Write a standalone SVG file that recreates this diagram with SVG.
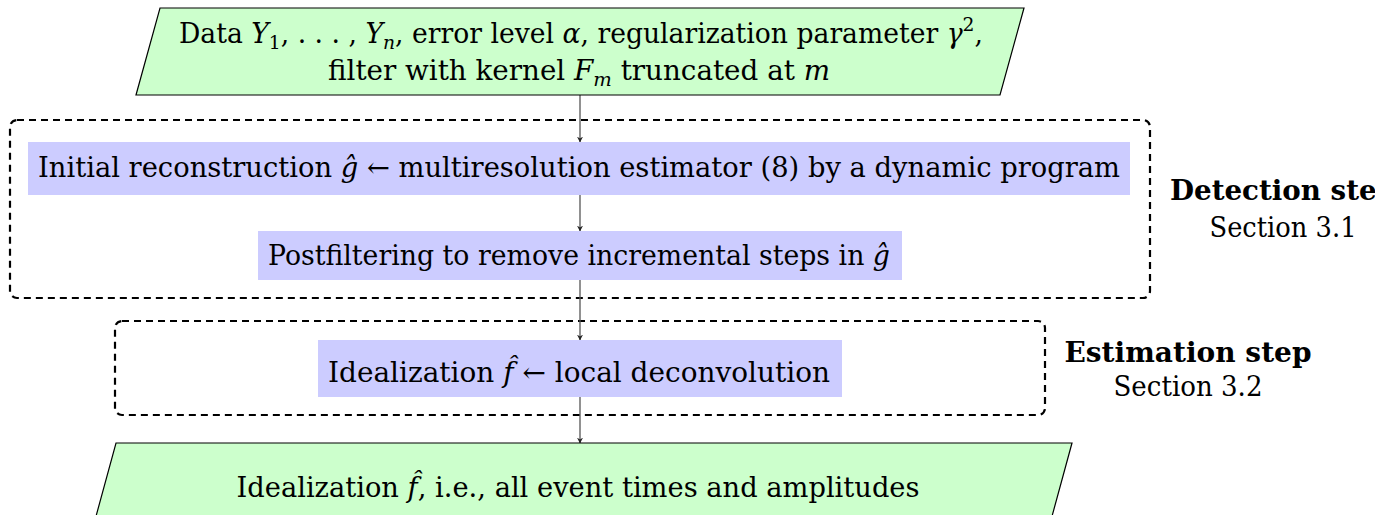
<svg xmlns="http://www.w3.org/2000/svg" width="1375" height="515" viewBox="0 0 1375 515">
<defs>
<style>
text{font-family:"DejaVu Serif",serif;font-size:27px;fill:#000}
.m{font-style:italic}
.s{font-size:19px}
.b{font-weight:bold}
.io{fill:#ccffcc;stroke:#000;stroke-width:1.2}
.proc{fill:#ccccff}
.grp{fill:none;stroke:#000;stroke-width:2.2;stroke-dasharray:7 5}
.conn{stroke:#555;stroke-width:1.3;fill:none;marker-end:url(#ah)}
</style>
<marker id="ah" viewBox="0 0 10 10" refX="9" refY="5" markerWidth="6" markerHeight="7" markerUnits="userSpaceOnUse" orient="auto">
<path d="M0,0 L10,5 L0,10 L3,5 Z" fill="#222"/>
</marker>
</defs>
<g id="groups">
<rect id="detection-group" class="grp" x="10" y="120" width="1140" height="178" rx="7"/>
<rect id="estimation-group" class="grp" x="115" y="321" width="930" height="94" rx="7"/>
</g>
<g id="connectors">
<line class="conn" x1="580" y1="95" x2="580" y2="142"/>
<line class="conn" x1="580" y1="195" x2="580" y2="231"/>
<line class="conn" x1="580" y1="280" x2="580" y2="340"/>
<line class="conn" x1="580" y1="397" x2="580" y2="443"/>
</g>
<g id="input">
<polygon class="io" points="160,8 1024,8 1000,95 136,95"/>
<text x="581" y="43" text-anchor="middle" textLength="804" lengthAdjust="spacingAndGlyphs">Data <tspan class="m">Y</tspan><tspan class="s" dy="6">1</tspan><tspan dy="-6">, . . . , </tspan><tspan class="m">Y</tspan><tspan class="s m" dy="6">n</tspan><tspan dy="-6">, error level </tspan><tspan class="m">α</tspan>, regularization parameter <tspan class="m">γ</tspan><tspan class="s" dy="-12">2</tspan><tspan dy="12">,</tspan></text>
<text x="579" y="80" text-anchor="middle" textLength="502" lengthAdjust="spacingAndGlyphs">filter with kernel <tspan class="m">F</tspan><tspan class="s m" dy="6">m</tspan><tspan dy="-6"> truncated at </tspan><tspan class="m">m</tspan></text>
</g>
<g id="initial-reconstruction">
<rect class="proc" x="28" y="142" width="1102" height="53"/>
<text x="579" y="177" text-anchor="middle" textLength="1082" lengthAdjust="spacingAndGlyphs">Initial reconstruction <tspan class="m">ĝ</tspan> ← multiresolution estimator (8) by a dynamic program</text>
</g>
<g id="postfiltering">
<rect class="proc" x="258" y="231" width="644" height="49"/>
<text x="579" y="265" text-anchor="middle" textLength="622" lengthAdjust="spacingAndGlyphs">Postfiltering to remove incremental steps in <tspan class="m">ĝ</tspan></text>
</g>
<g id="idealization">
<rect class="proc" x="318" y="340" width="524" height="57"/>
<text x="579" y="382" text-anchor="middle" textLength="502" lengthAdjust="spacingAndGlyphs">Idealization <tspan class="m">f̂</tspan> ← local deconvolution</text>
</g>
<g id="output">
<polygon class="io" points="116,443 1072,443 1048,531 92,531"/>
<text x="578" y="497" text-anchor="middle" textLength="683" lengthAdjust="spacingAndGlyphs">Idealization <tspan class="m">f̂</tspan>, i.e., all event times and amplitudes</text>
</g>
<g id="labels">
<text class="b" x="1283" y="200" text-anchor="middle" textLength="226" lengthAdjust="spacingAndGlyphs">Detection step</text>
<text x="1283" y="237" text-anchor="middle" textLength="147" lengthAdjust="spacingAndGlyphs">Section 3.1</text>
<text class="b" x="1188" y="362" text-anchor="middle" textLength="247" lengthAdjust="spacingAndGlyphs">Estimation step</text>
<text x="1188" y="396" text-anchor="middle" textLength="149" lengthAdjust="spacingAndGlyphs">Section 3.2</text>
</g>
</svg>
